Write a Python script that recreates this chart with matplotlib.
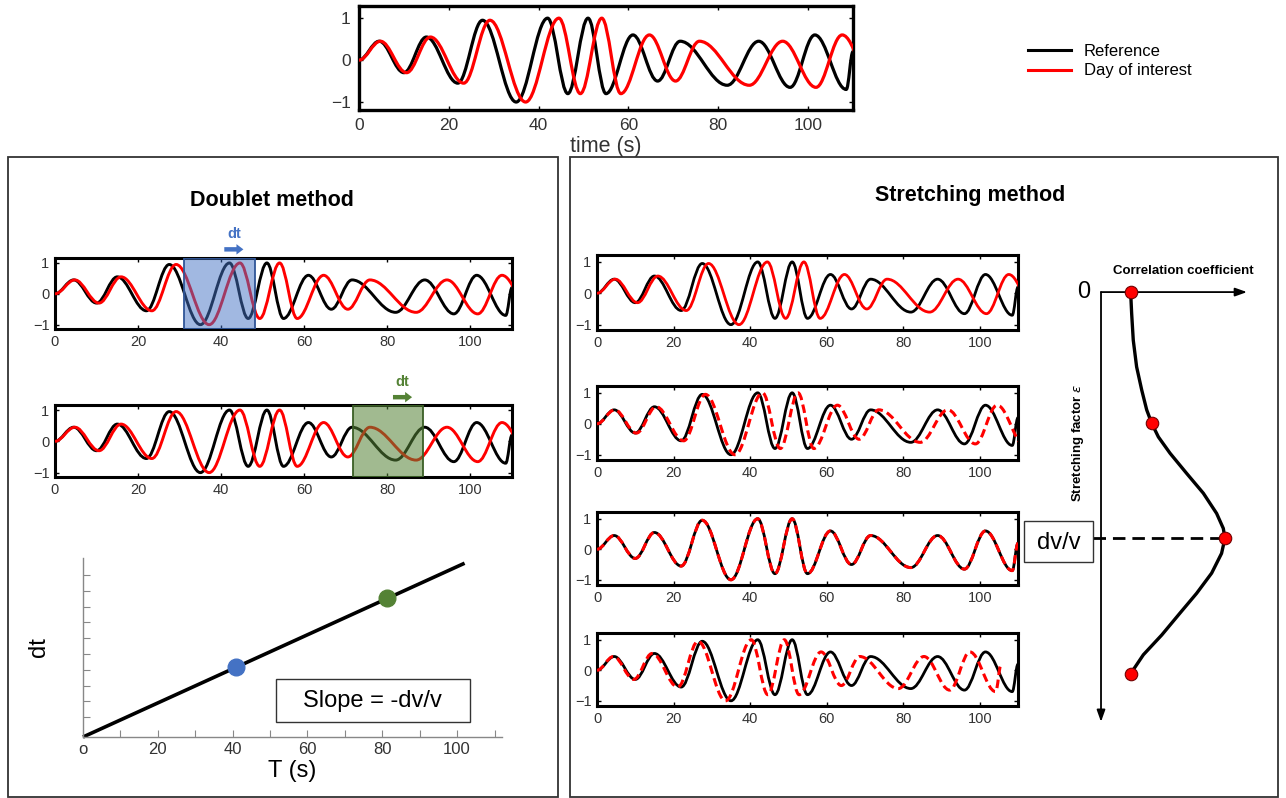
import numpy as np
import matplotlib
matplotlib.use('Agg')
import matplotlib.pyplot as plt
from matplotlib.path import Path
from matplotlib.patches import PathPatch, Rectangle
from matplotlib.lines import Line2D

plt.rcParams['font.family'] = ['Liberation Sans', 'DejaVu Sans']

# reference waveform, given by its turning points (time in s, amplitude)
ref_t = [0, 4.5, 10, 15, 22, 27.5, 35, 42, 46.5, 51, 55, 61, 66.5, 71.5, 82, 89, 96, 101.5, 108.5, 110]
ref_a = [0.0, 0.45, -0.3, 0.55, -0.55, 0.95, -1.0, 1.0, -0.8, 1.0, -0.8, 0.6, -0.5, 0.45, -0.6, 0.45, -0.65, 0.6, -0.7, 0.2]

doi_stretch = 1.06                        # day of interest = reference stretched in time
trial_stretch = [1.06, 1.03, 1.0, 0.96]   # day of interest after each trial stretching

win_blue = [31.0, 48.1]
win_green = [71.7, 88.6]

# dt against lag time
line_T = [0, 102]
line_dt = [0, 11.0]
pts_T = [41, 81.3]
pts_dt = [4.4, 8.8]
pts_col = ['#4472c4', '#548235']

# correlation coefficient against stretching factor
cc_curve = [0.203, 0.210, 0.221, 0.244, 0.279, 0.313, 0.347, 0.393, 0.473, 0.587, 0.701,
            0.792, 0.838, 0.849, 0.826, 0.758, 0.655, 0.541, 0.416, 0.290, 0.203]
eps_curve = [0, 0.050, 0.112, 0.174, 0.228, 0.274, 0.305, 0.337, 0.375, 0.422, 0.468,
             0.515, 0.550, 0.573, 0.608, 0.654, 0.701, 0.747, 0.798, 0.844, 0.888]
cc_dots = [0.203, 0.347, 0.849, 0.203]
eps_dots = [0, 0.305, 0.573, 0.888]

W, H = 1286, 798
fig = plt.figure(figsize=(W / 100, H / 100), dpi=100)


def rect(l, t, r, b):
    return [l / W, 1 - b / H, (r - l) / W, (b - t) / H]


def wave_ax(box, ylim, fs, slw=2.2, pad=4):
    ax = fig.add_axes(rect(*box))
    ax.set_xlim(0, 110)
    ax.set_ylim(*ylim)
    ax.set_xticks([0, 20, 40, 60, 80, 100])
    ax.set_yticks([-1, 0, 1])
    for s in ax.spines.values():
        s.set_linewidth(slw)
    ax.tick_params(direction='in', top=True, right=True, length=3, width=1,
                   labelsize=fs, labelcolor='#333', pad=pad)
    return ax


def wave(ax, t, a, color, ls='-', lw=2.2, z=2):
    # smooth curve through the turning points, drawn as bezier segments
    k = 0.364
    verts = [(t[0], a[0])]
    codes = [Path.MOVETO]
    for i in range(len(t) - 1):
        d = t[i + 1] - t[i]
        verts += [(t[i] + k * d, a[i]), (t[i + 1] - k * d, a[i + 1]), (t[i + 1], a[i + 1])]
        codes += [Path.CURVE4] * 3
    ax.add_patch(PathPatch(Path(verts, codes), fill=False, ec=color, lw=lw, ls=ls,
                           zorder=z, capstyle='butt', joinstyle='round'))


ref_t = np.array(ref_t)
ref_a = np.array(ref_a)

# background: panel boxes and titles
bg = fig.add_axes([0, 0, 1, 1], zorder=-1)
bg.set_xlim(0, W)
bg.set_ylim(H, 0)
bg.axis('off')
bg.add_patch(Rectangle((8, 157), 550, 640, fill=False, ec='#333', lw=1.3))
bg.add_patch(Rectangle((570, 157), 708, 640, fill=False, ec='#333', lw=1.3))
bg.text(272, 201, 'Doublet method', ha='center', va='center', fontsize=15.5, fontweight='bold')
bg.text(970, 195, 'Stretching method', ha='center', va='center', fontsize=15.5, fontweight='bold')

# top panel
ax = wave_ax((359, 6, 853, 110), (-1.19, 1.29), 12.5, slw=2.4, pad=6)
wave(ax, ref_t, ref_a, 'k', lw=2.3)
wave(ax, ref_t * doi_stretch, ref_a, 'red', lw=2.3, z=3)
ax.set_xlabel('time (s)', fontsize=15.5, color='#333', labelpad=2)
handles = [Line2D([], [], color='k', lw=2.2), Line2D([], [], color='red', lw=2.2)]
fig.legend(handles, ['Reference', 'Day of interest'], loc='center left',
           bbox_to_anchor=(1013 / W, 1 - 61 / H), frameon=False, fontsize=12,
           handlelength=2.6, handletextpad=0.75, labelspacing=0.3)

# doublet panels
ylim_s = (-1.14, 1.16)
d_boxes = [(55, 258, 512, 329), (55, 405, 512, 477)]
wins = [win_blue, win_green]
fills = [(0.27, 0.45, 0.77, 0.5), (0.33, 0.51, 0.21, 0.55)]
edges = ['#2f5597', '#3a5f25']
arrow_y = [1.44, 1.41]
for box, win, fc, ec, col, ay in zip(d_boxes, wins, fills, edges, pts_col, arrow_y):
    ax = wave_ax(box, ylim_s, 10.5)
    wave(ax, ref_t, ref_a, 'k', lw=2.1)
    wave(ax, ref_t * doi_stretch, ref_a, 'red', lw=2.1, z=3)
    ax.add_patch(Rectangle((win[0], ylim_s[0]), win[1] - win[0], ylim_s[1] - ylim_s[0],
                           fc=fc, ec=ec, lw=1.3, zorder=4))
    mid = (win[0] + win[1]) / 2 + 3.5
    ax.annotate('', xy=(mid + 2.3, ay), xytext=(mid - 2.3, ay), annotation_clip=False,
                arrowprops=dict(arrowstyle='simple,head_length=0.5,head_width=0.75,tail_width=0.32',
                                fc=col, ec='none', shrinkA=0, shrinkB=0))
    ax.text(mid, ay + 0.5, 'dt', color=col, fontsize=10.5, fontweight='bold',
            ha='center', va='center', clip_on=False)

# dt against T
ax = fig.add_axes(rect(83, 558, 502, 737))
ax.set_xlim(0, 112)
ax.set_ylim(0, 11.33)
for s in ['top', 'right']:
    ax.spines[s].set_visible(False)
for s in ['left', 'bottom']:
    ax.spines[s].set_color('#888')
    ax.spines[s].set_linewidth(1)
ax.set_xticks(np.arange(0, 120, 10))
ax.set_xticklabels(['o', '', '20', '', '40', '', '60', '', '80', '', '100', ''])
ax.set_yticks(np.arange(1.25, 10.5, 1))
ax.set_yticklabels([])
ax.tick_params(direction='in', length=5, color='#888', labelsize=12, labelcolor='#333')
ax.plot(line_T, line_dt, color='k', lw=2.6, solid_capstyle='butt', clip_on=False)
for T, dt, c in zip(pts_T, pts_dt, pts_col):
    ax.plot(T, dt, 'o', ms=12, color=c, zorder=4)
ax.set_xlabel('T (s)', fontsize=17, labelpad=2)
ax.set_ylabel('dt', fontsize=17, labelpad=20)
ax.add_patch(Rectangle((51.6, 0.95), 51.9, 2.72, fill=False, ec='#333', lw=1))
ax.text(77.5, 2.31, 'Slope = -dv/v', fontsize=17, ha='center', va='center')

# stretching panels
s_boxes = [(597, 255, 1018, 330), (597, 386, 1018, 460), (597, 512, 1018, 585), (597, 633, 1018, 706)]
for i, (box, f) in enumerate(zip(s_boxes, trial_stretch)):
    ax = wave_ax(box, (-1.17, 1.22), 10.5)
    wave(ax, ref_t, ref_a, 'k', lw=2.0)
    if i == 0:
        wave(ax, ref_t * f, ref_a, 'red', lw=2.0, z=3)
    else:
        wave(ax, ref_t * f, ref_a, 'red', lw=2.2, ls=(0, (2.8, 1.5)), z=3)

# correlation coefficient diagram
ax = fig.add_axes(rect(1020, 262, 1262, 730))
ax.set_xlim(-0.555, 1.103)
ax.set_ylim(1.019, -0.07)
ax.axis('off')
arw = dict(arrowstyle='-|>,head_length=0.7,head_width=0.25', lw=1.3, color='k', shrinkA=0, shrinkB=0)
ax.annotate('', xy=(1.0, 0), xytext=(0, 0), arrowprops=arw)
ax.annotate('', xy=(0, 1.0), xytext=(0, 0), arrowprops=arw)
ax.plot(cc_curve, eps_curve, color='k', lw=2.4, solid_joinstyle='round')
ax.plot(cc_dots, eps_dots, 'o', ms=9, mfc='red', mec='#700000', mew=0.8, zorder=5, clip_on=False)
ax.plot([-0.055, cc_dots[2]], [eps_dots[2], eps_dots[2]], color='k', lw=2, dashes=(4.5, 2.5))
ax.add_patch(Rectangle((-0.527, 0.533), 0.472, 0.095, fc='white', ec='#333', lw=1, zorder=4))
ax.text(-0.291, 0.583, 'dv/v', fontsize=17, ha='center', va='center', zorder=5)
ax.text(-0.116, 0, '0', fontsize=17, ha='center', va='center')
ax.text(0.562, -0.049, 'Correlation coefficient', fontsize=9.5, fontweight='bold',
        ha='center', va='center')
ax.text(-0.158, 0.351, r'Stretching factor $\varepsilon$', fontsize=9.5, fontweight='bold',
        ha='center', va='center', rotation=90)

fig.savefig('out.png', dpi=100)
